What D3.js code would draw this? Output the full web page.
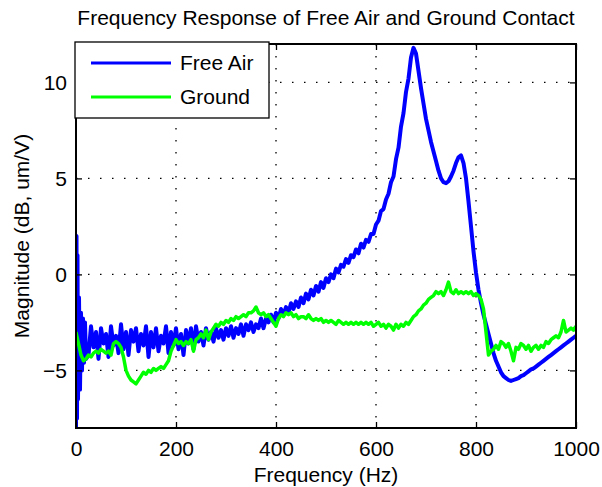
<!DOCTYPE html>
<html>
<head>
<meta charset="utf-8">
<script src="https://cdn.jsdelivr.net/npm/d3@7"></script>
<style>
  body { margin: 0; background: #fff; }
  svg text { font-family: "Liberation Sans", Arial, Helvetica, sans-serif; fill: #000; }
</style>
</head>
<body>
<svg id="chart" width="602" height="487"></svg>
<script>
// Chart text
const titleText = 'Frequency Response of Free Air and Ground Contact';
const xLabel = 'Frequency (Hz)';
const yLabel = 'Magnitude (dB, um/V)';
const seriesNames = ['Free Air', 'Ground'];

// Tick values
const xTicks = [0, 200, 400, 600, 800, 1000];
const yTicks = [-5, 0, 5, 10];

// Free Air: the spike right at the start (Hz, dB)
const airHeadFreq = [0, 1, 2, 3, 4, 6, 8, 10, 12, 14, 16, 18, 20];
const airHeadMag = [-8, 2, -7.5, 1, -6.5, -1.2, -6, -2.0, -5, -2.3, -4.6, -2.5, -4.4];

// Free Air: 25 Hz .. 1000 Hz, one reading every 5 Hz
const airMag = [
  -4.2, -2.7, -3.8, -3.0, -4.4, -2.8, -3.6, -3.1, -4.3, -2.7,   // 25-70
  -3.7, -3.2, -4.1, -2.6, -3.9, -3.0, -4.2, -2.9, -3.5, -2.8,   // 75-120
  -4.0, -3.1, -3.7, -2.7, -4.3, -3.0, -3.8, -2.8, -4.0, -3.2,   // 125-170
  -3.6, -2.7, -4.1, -3.0, -3.7, -2.8, -3.9, -3.1, -4.2, -2.9,   // 175-220
  -3.6, -2.8, -3.9, -2.7, -3.5, -3.0, -3.7, -2.8, -3.4, -3.0,   // 225-270
  -3.5, -2.8, -3.3, -2.9, -3.4, -2.8, -3.2, -2.7, -3.3, -2.8,   // 275-320
  -3.1, -2.6, -3.2, -2.6, -2.9, -2.5, -3.0, -2.6, -2.8, -2.3,   // 325-370
  -2.8, -2.3, -2.5, -2.1, -2.5, -2.0, -2.3, -1.8, -2.1, -1.7,   // 375-420
  -2.0, -1.5, -1.8, -1.4, -1.7, -1.2, -1.5, -1.0, -1.3, -0.8,   // 425-470
  -1.1, -0.6, -0.9, -0.4, -0.7, -0.2, -0.4, 0.0, -0.2, 0.3,     // 475-520
  0.1, 0.5, 0.4, 0.8, 0.6, 1.0, 0.9, 1.3, 1.1, 1.6,             // 525-570
  1.4, 1.8, 1.7, 2.1, 2.1, 2.6, 2.8, 3.3, 3.4, 3.9,             // 575-620
  4.2, 4.8, 5.1, 6.0, 6.6, 7.7, 8.4, 9.5, 10.2, 11.3,           // 625-670
  11.8, 11.5, 10.6, 9.7, 8.9, 8.1, 7.5, 6.9, 6.4, 5.9,          // 675-720
  5.4, 5.0, 4.8, 4.75, 4.85, 5.1, 5.4, 5.8, 6.1, 6.2,           // 725-770
  5.8, 5.0, 3.8, 2.5, 1.2, 0.1, -0.8, -1.5, -2.1, -2.6,         // 775-820
  -3.1, -3.6, -4.1, -4.5, -4.8, -5.1, -5.3, -5.4, -5.5, -5.55,  // 825-870
  -5.5, -5.45, -5.4, -5.3, -5.25, -5.15, -5.05, -4.95, -4.9, -4.8, // 875-920
  -4.7, -4.6, -4.5, -4.4, -4.3, -4.2, -4.1, -4.0, -3.9, -3.8,   // 925-970
  -3.7, -3.6, -3.5, -3.4, -3.3, -3.2                            // 975-1000
];

// Ground: 0 Hz .. 1000 Hz, one reading every 5 Hz
const groundMag = [
  -3.0, -3.6, -4.2, -4.5, -4.4, -4.2, -4.3, -4.1, -4.0, -4.1,   // 0-45
  -3.9, -4.0, -4.1, -4.0, -4.2, -3.6, -3.5, -3.6, -3.8, -4.3,   // 50-95
  -5.0, -5.3, -5.5, -5.6, -5.7, -5.5, -5.3, -5.1, -5.2, -5.0,   // 100-145
  -5.1, -4.9, -5.0, -4.9, -4.8, -4.9, -4.7, -4.5, -4.0, -3.7,   // 150-195
  -3.4, -3.6, -3.5, -3.7, -3.5, -3.6, -3.4, -4.0, -3.4, -3.3,   // 200-245
  -3.1, -3.3, -2.9, -3.4, -3.0, -2.8, -2.6, -2.7, -2.5, -2.6,   // 250-295
  -2.4, -2.5, -2.3, -2.4, -2.2, -2.3, -2.2, -2.1, -2.2, -2.0,   // 300-345
  -2.0, -1.9, -1.7, -2.0, -2.1, -2.0, -2.2, -2.1, -2.3, -2.5,   // 350-395
  -2.7, -2.3, -2.1, -2.2, -2.0, -2.1, -2.0, -2.2, -2.1, -2.3,   // 400-445
  -2.2, -2.2, -2.3, -2.1, -2.3, -2.4, -2.3, -2.4, -2.3, -2.5,   // 450-495
  -2.4, -2.5, -2.4, -2.5, -2.6, -2.4, -2.5, -2.6, -2.5, -2.6,   // 500-545
  -2.5, -2.6, -2.5, -2.6, -2.5, -2.6, -2.5, -2.6, -2.5, -2.7,   // 550-595
  -2.6, -2.5, -2.7, -2.6, -2.8, -2.6, -2.7, -2.9, -2.6, -2.8,   // 600-645
  -2.6, -2.7, -2.5, -2.6, -2.4, -2.2, -2.1, -1.9, -1.8, -1.6,   // 650-695
  -1.5, -1.3, -1.2, -1.1, -0.9, -1.0, -0.9, -1.1, -0.8, -0.4,   // 700-745
  -0.9, -1.0, -0.8, -1.0, -0.9, -1.0, -0.9, -1.0, -0.9, -1.1,   // 750-795
  -1.0, -1.1, -1.3, -1.8, -3.0, -4.2, -4.0, -3.9, -3.7, -3.9,   // 800-845
  -3.5, -3.6, -3.8, -3.6, -4.0, -4.5, -3.8, -3.9, -3.6, -3.7,   // 850-895
  -3.9, -3.7, -4.0, -3.8, -3.7, -3.9, -3.7, -3.8, -3.5, -3.6,   // 900-945
  -3.4, -3.3, -3.2, -3.3, -3.0, -2.4, -3.0, -2.9, -2.8, -2.9,   // 950-995
  -2.7                                                          // 1000
];

// Layout
const svg = d3.select('#chart');
const margin = {left: 76, right: 26, top: 44, bottom: 59};
const width = 602 - margin.left - margin.right;
const height = 487 - margin.top - margin.bottom;
const fontSize = 21;
const blue = '#0000ff';
const green = '#00ff00';

const x = d3.scaleLinear().domain([0, 1000]).range([0, width]);
const y = d3.scaleLinear().domain([-8, 12]).range([height, 0]);

// Build point lists from the arrays
const airPoints = airHeadFreq.map((f, i) => [f, airHeadMag[i]])
  .concat(airMag.map((v, i) => [25 + i * 5, v]));
const groundPoints = groundMag.map((v, i) => [i * 5, v]);

const g = svg.append('g').attr('transform', `translate(${margin.left},${margin.top})`);

svg.append('defs').append('clipPath').attr('id', 'plotClip')
  .append('rect').attr('width', width).attr('height', height);

// Dotted grid
g.append('g').selectAll('line').data(xTicks).join('line')
  .attr('x1', d => x(d)).attr('x2', d => x(d))
  .attr('y1', 0).attr('y2', height)
  .attr('stroke', '#000').attr('stroke-width', 1.3)
  .attr('stroke-dasharray', '1.5,10.5');
g.append('g').selectAll('line').data(yTicks).join('line')
  .attr('x1', 0).attr('x2', width)
  .attr('y1', d => y(d)).attr('y2', d => y(d))
  .attr('stroke', '#000').attr('stroke-width', 1.3)
  .attr('stroke-dasharray', '1.5,10.5');

// Lines
const line = d3.line().x(d => x(d[0])).y(d => y(d[1]));
const plot = g.append('g').attr('clip-path', 'url(#plotClip)');
plot.append('path').datum(airPoints)
  .attr('d', line).attr('fill', 'none')
  .attr('stroke', blue).attr('stroke-width', 4).attr('stroke-linejoin', 'round');
plot.append('path').datum(groundPoints)
  .attr('d', line).attr('fill', 'none')
  .attr('stroke', green).attr('stroke-width', 3.5).attr('stroke-linejoin', 'round');

// Axes, ticks pointing inward on all four sides
function styleAxis(sel, showText) {
  sel.select('.domain').remove();
  sel.selectAll('.tick line').attr('stroke', '#000').attr('stroke-width', 1.3);
  sel.selectAll('.tick text').style('font-size', fontSize + 'px')
    .style('display', showText ? null : 'none');
}
const fmt = d3.format('d');
g.append('g').attr('transform', `translate(0,${height})`)
  .call(d3.axisBottom(x).tickValues(xTicks).tickFormat(fmt).tickSizeInner(-6).tickSizeOuter(0).tickPadding(13))
  .call(s => styleAxis(s, true));
g.append('g')
  .call(d3.axisTop(x).tickValues(xTicks).tickSizeInner(-6).tickSizeOuter(0))
  .call(s => styleAxis(s, false));
g.append('g')
  .call(d3.axisLeft(y).tickValues(yTicks).tickFormat(fmt).tickSizeInner(-6).tickSizeOuter(0).tickPadding(9))
  .call(s => styleAxis(s, true));
g.append('g').attr('transform', `translate(${width},0)`)
  .call(d3.axisRight(y).tickValues(yTicks).tickSizeInner(-6).tickSizeOuter(0))
  .call(s => styleAxis(s, false));

// Frame
g.append('rect').attr('width', width).attr('height', height)
  .attr('fill', 'none').attr('stroke', '#000').attr('stroke-width', 2);

// Title and axis labels
svg.append('text').attr('x', margin.left + width / 2).attr('y', 25)
  .attr('text-anchor', 'middle').style('font-size', fontSize + 'px').text(titleText);
svg.append('text').attr('x', margin.left + width / 2).attr('y', 482)
  .attr('text-anchor', 'middle').style('font-size', fontSize + 'px').text(xLabel);
svg.append('text')
  .attr('transform', `translate(29,${margin.top + height / 2}) rotate(-90)`)
  .attr('text-anchor', 'middle').style('font-size', fontSize + 'px').text(yLabel);

// Legend
const legend = svg.append('g').attr('transform', 'translate(75,42)');
legend.append('rect').attr('width', 194).attr('height', 76)
  .attr('fill', '#fff').attr('stroke', '#000').attr('stroke-width', 1.3);
const legendRows = legend.selectAll('g.row').data(seriesNames).join('g')
  .attr('class', 'row')
  .attr('transform', (d, i) => `translate(0,${21 + i * 34})`);
legendRows.append('line').attr('x1', 16).attr('x2', 96)
  .attr('stroke', (d, i) => i === 0 ? blue : green).attr('stroke-width', 3);
legendRows.append('text').attr('x', 105).attr('dy', '0.35em')
  .style('font-size', fontSize + 'px').text(d => d);
</script>
</body>
</html>
